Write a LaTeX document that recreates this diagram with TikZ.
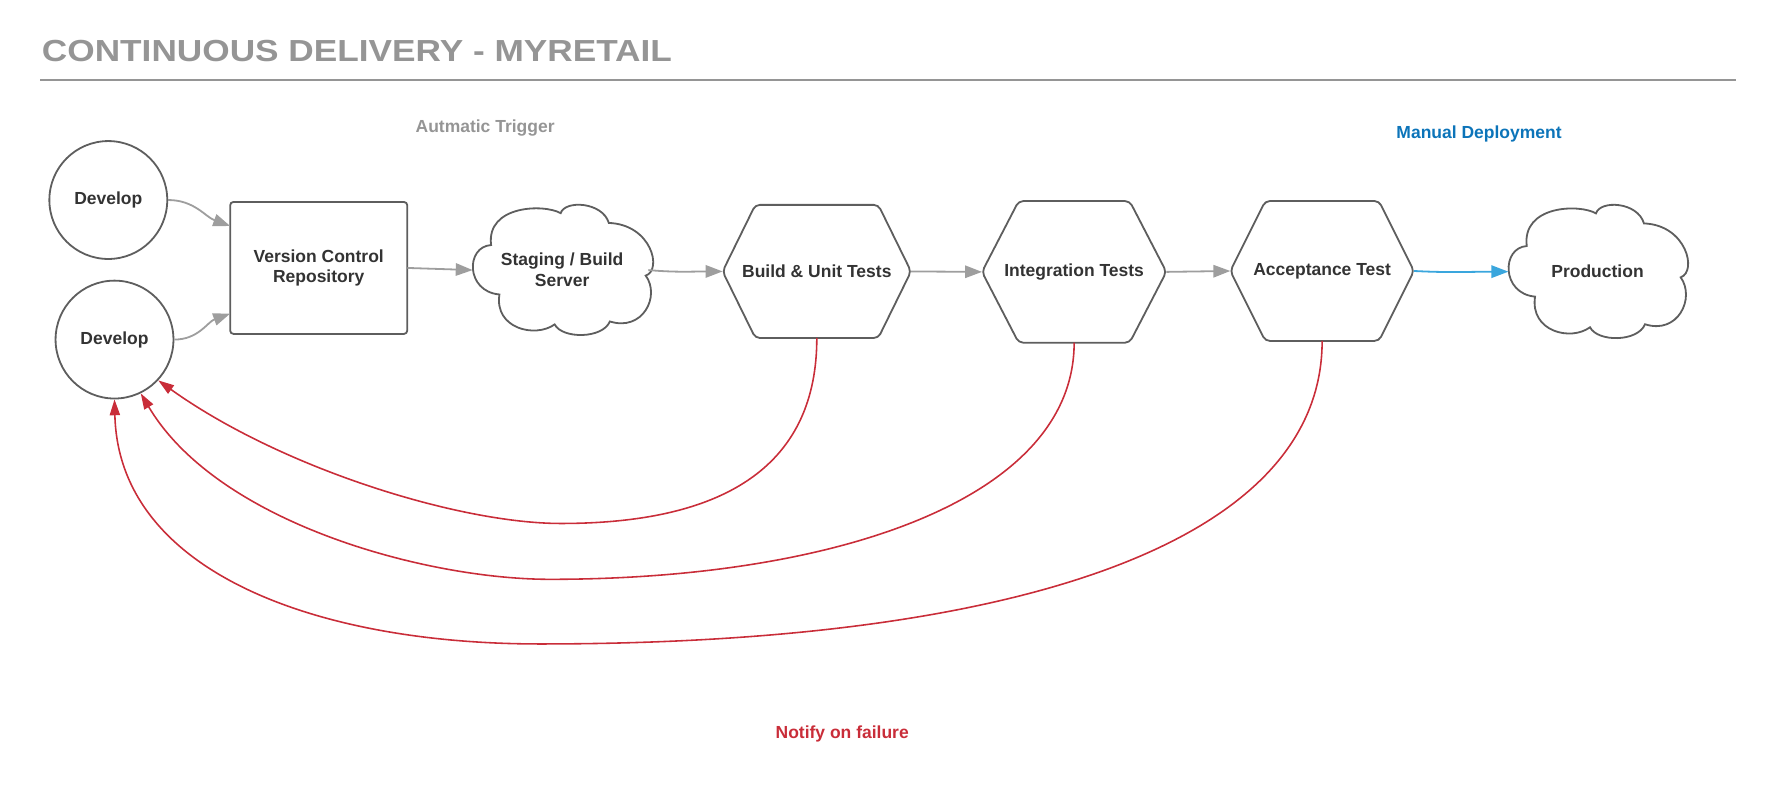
\documentclass[tikz,border=0pt]{standalone}
\usepackage{fontspec}
\setmainfont{Liberation Sans}
\usetikzlibrary{arrows.meta,calc}
\definecolor{titlegray}{HTML}{959595}
\definecolor{edgegray}{HTML}{5E5E5E}
\definecolor{txt}{HTML}{333333}
\definecolor{arrowgray}{HTML}{9E9E9E}
\definecolor{failred}{HTML}{C92D39}
\definecolor{deployblue}{HTML}{3AA6DD}
\definecolor{labelblue}{HTML}{0C74B9}
\begin{document}
\begin{tikzpicture}[x=1pt,y=1pt,
  nodefont/.style={font=\fontsize{15.5}{18.5}\selectfont\bfseries, text=txt},
  labelfont/.style={font=\fontsize{15.5}{18.5}\selectfont\bfseries, inner sep=0pt},
  shapeline/.style={draw=edgegray, line width=1.6pt},
  devnode/.style={circle, shapeline, nodefont, minimum size=104.5pt, inner sep=0pt},
  boxnode/.style={rectangle, nodefont, align=center, inner sep=0pt, outer sep=0pt},
  flow/.style={draw=arrowgray, line width=1.6pt, -{Triangle[length=15pt,width=11pt]}},
  fail/.style={draw=failred, line width=1.4pt, -{Triangle[length=14pt,width=9pt]}},
]
\useasboundingbox (0,0) rectangle (1568,709);

% title and rule
\node[anchor=base west, inner sep=0pt, text=titlegray, font=\fontsize{27}{32}\selectfont\bfseries] (title) at (37,654.5) {\scalebox{1.156}[1]{CONTINUOUS DELIVERY - MYRETAIL}};
\coordinate (ruleL) at (35.5,638.1);
\coordinate (ruleR) at (1539,638.1);
\draw[titlegray, line width=2.4pt] (ruleL) -- (ruleR);

% nodes
\node[devnode] (d1) at (96,531.7) {Develop};
\node[devnode] (d2) at (101.5,408) {Develop};
\node[boxnode, draw=edgegray, line width=1.6pt, rounded corners=3pt, minimum width=157pt, minimum height=117pt] (vcr) at (282.5,471.5) {Version Control\\Repository};
\node[boxnode, minimum width=158.7pt, minimum height=115.3pt] (stage) at (498.3,469.6) {Staging / Build\\Server};
\node[boxnode, minimum width=167pt, minimum height=118pt] (b1) at (724,468.4) {Build \& Unit Tests};
\node[boxnode, minimum width=163.4pt, minimum height=125.5pt] (b2) at (952.1,468) {Integration Tests};
\node[boxnode, minimum width=162.8pt, minimum height=124pt] (b3) at (1171.9,468.8) {Acceptance Test};
\node[boxnode, minimum width=158pt, minimum height=118pt] (prod) at (1416,468.2) {Production};

% hexagon outlines
\foreach \nm/\sl in {b1/29,b2/32.5,b3/31}{
  \draw[shapeline, rounded corners=4pt] (\nm.west) -- ([xshift=\sl pt]\nm.north west) -- ([xshift=-\sl pt]\nm.north east) -- (\nm.east) -- ([xshift=-\sl pt]\nm.south east) -- ([xshift=\sl pt]\nm.south west) -- cycle;
}

% cloud outlines
\foreach \nm/\hw/\hh in {stage/79.35/57.65, prod/79/59}{
  \begin{scope}[shift={(\nm.center)}, x=\hw pt, y=-\hh pt]
    \draw[shapeline] (-0.794,-0.385)
      .. controls (-1.08,-0.36) and (-1.08,0.33) .. (-0.701,0.375)
      .. controls (-0.76,0.9) and (-0.3,1.05) .. (-0.084,0.835)
      .. controls (0.0,1.06) and (0.45,1.06) .. (0.533,0.79)
      .. controls (0.9,0.95) and (1.1,0.4) .. (0.933,0.085)
      .. controls (1.12,0.0) and (1.0,-0.7) .. (0.521,-0.725)
      .. controls (0.45,-1.05) and (0.03,-1.08) .. (-0.017,-0.875)
      .. controls (-0.2,-1.02) and (-0.85,-1.0) .. cycle;
  \end{scope}
}

% flow connectors
\draw[flow] (d1.east) to[out=0,in=160] ([yshift=37.2pt]vcr.west);
\draw[flow] (d2.east) to[out=0,in=200] ([yshift=-40.5pt]vcr.west);
\draw[flow] (vcr.east) -- (stage.west);
\draw[flow] ([xshift=-3pt]stage.east) to[out=-5,in=180] (b1.west);
\draw[flow] (b1.east) -- (b2.west);
\draw[flow] (b2.east) -- (b3.west);
\draw[flow, draw=deployblue] (b3.east) to[out=-3,in=180] (prod.west);

% failure notifications
\draw[fail] (b1.south) .. controls (724,299.4) and (647,245) .. (497,245)
  .. controls (407,245) and (249,294) .. (d2.-43);
\draw[fail] (b2.south) .. controls (952,265.3) and (737.5,195.5) .. (487.5,195.5)
  .. controls (377.5,195.5) and (192.7,245.5) .. (d2.-64);
\draw[fail] (b3.south) .. controls (1172,226.7) and (898.6,138.2) .. (478.6,138.2)
  .. controls (278.6,138.2) and (105,203) .. (d2.south);

% labels
\node[labelfont, text=titlegray, anchor=base] (trig) at (430,591.4) {Autmatic Trigger};
\node[labelfont, text=labelblue, anchor=base] (manual) at (1311,585.8) {Manual Deployment};
\node[labelfont, text=failred, anchor=base] (notify) at (746.5,54.5) {Notify on failure};
\end{tikzpicture}
\end{document}
